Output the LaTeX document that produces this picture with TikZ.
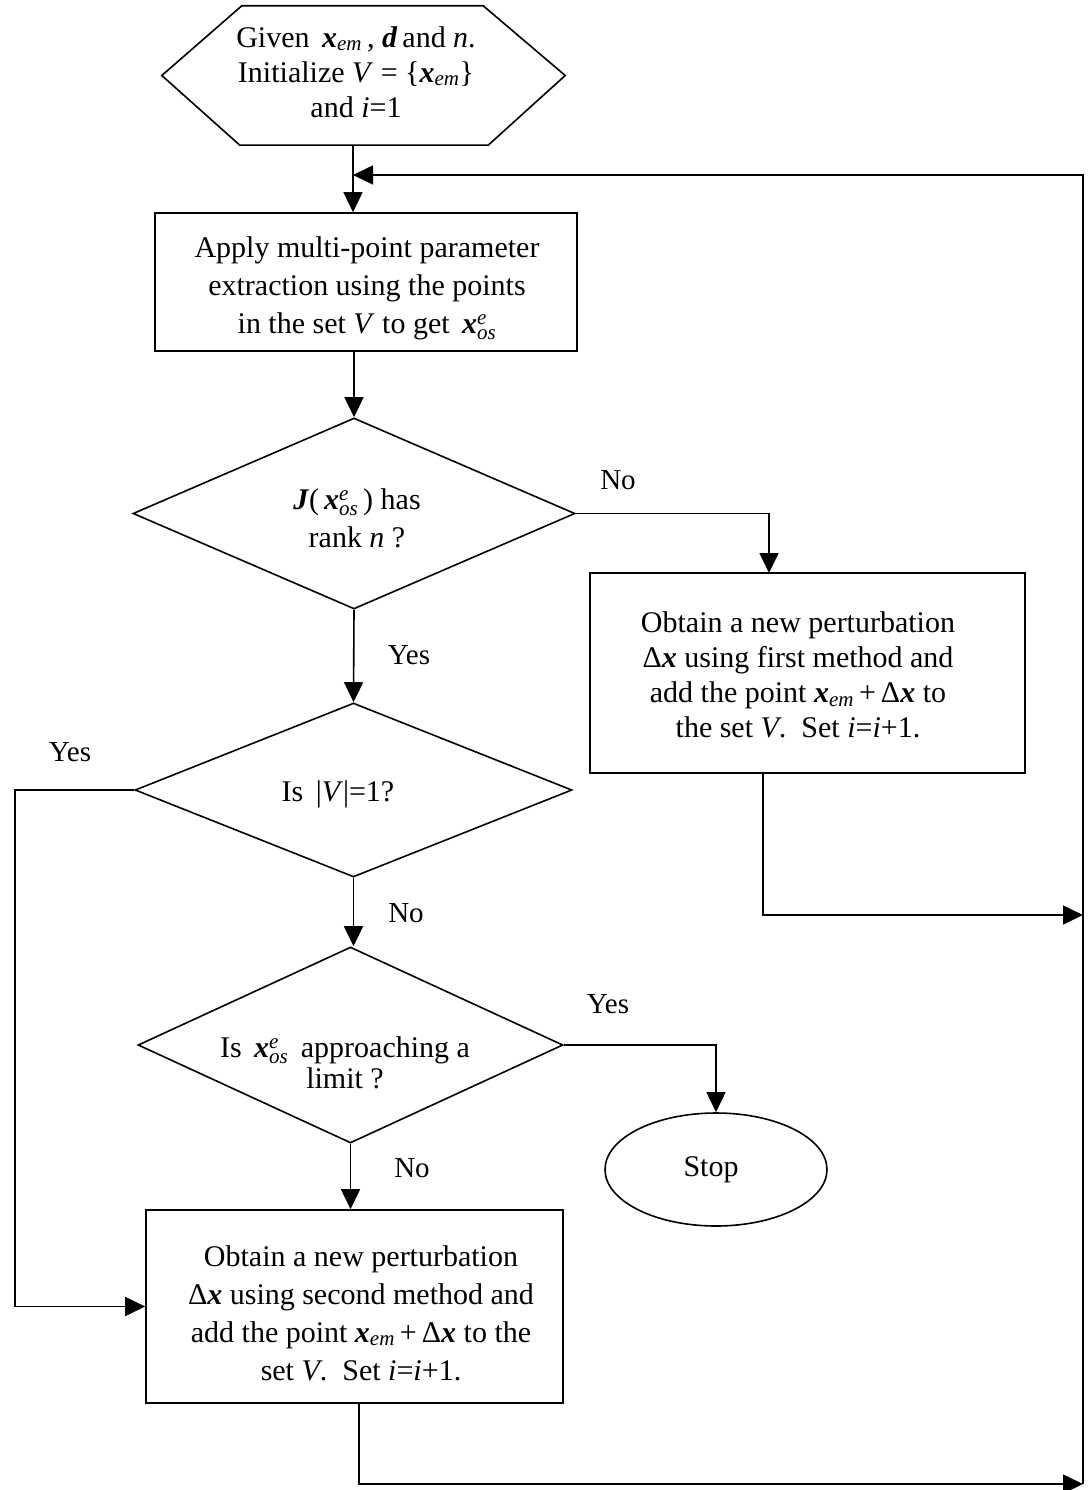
\documentclass[tikz,border=0pt]{standalone}
\usepackage{amsmath}
\usepackage{fontspec}
\setmainfont{Liberation Serif}
\usetikzlibrary{shapes.geometric,arrows.meta,calc}
\newcommand{\vx}{\textbf{\textit{x}}}
\newcommand{\xem}{\vx$_{\text{\itshape em}}$}
\newcommand{\xos}{\vx$^{\text{\itshape e}}_{\text{\itshape os}}$}
\tikzset{
  ln/.style={line width=1.6pt, line join=miter},
  arr/.style={ln, -{Triangle[length=20pt,width=19pt]}},
  boxx/.style={draw, ln, rectangle, inner sep=0pt},
  dia/.style={draw, ln, diamond, inner sep=0pt},
  txt/.style={align=center, inner sep=0pt, font=\fontsize{30}{36}\selectfont},
  lab/.style={inner sep=0pt, font=\fontsize{29}{34}\selectfont},
}
\begin{document}
\begin{tikzpicture}[x=1pt,y=-1pt]
\useasboundingbox[fill=white] (0,0) rectangle (1088,1490);
% hexagon
\node[minimum width=403, minimum height=139, inner sep=0pt] (hex) at (363.5,75.5) {};
\draw[ln] (hex.west) -- ($(hex.north west)+(80,0)$) -- ($(hex.north east)+(-82,0)$)
  -- (hex.east) -- ($(hex.south east)+(-77,0)$) -- ($(hex.south west)+(78,0)$) -- cycle;
\node[txt, font=\fontsize{30}{35}\selectfont] (hext) at (356,72) {Given \,\xem\,, \textbf{\textit{d}}\,and \textit{n}.\\
  Initialize \textit{V} = \{\xem\}\\ and \textit{i}=1};
% box 1
\node[boxx, minimum width=422, minimum height=138] (box1) at (366,282) {};
\node[txt, font=\fontsize{30}{38}\selectfont] (box1t) at (367,288) {Apply multi-point parameter\\ extraction using the points\\
  in the set \textit{V} to get \,\xos};
% diamond 1
\node[dia, minimum width=442, minimum height=191] (d1) at (354,513.5) {};
\node[txt, font=\fontsize{30}{38}\selectfont] (d1t) at (357,518) {\textbf{\textit{J}}(\,\xos\,) has\\ rank \textit{n} ?};
% box 2
\node[boxx, minimum width=435, minimum height=200] (box2) at (807.5,673) {};
\node[txt, font=\fontsize{30}{35}\selectfont] (box2t) at (798,675) {Obtain a new perturbation\\
  Δ\vx\ using first method and\\ add the point \xem\,+\,Δ\vx\ to\\
  the set \textit{V}. \ Set \textit{i}=\textit{i}+1.};
% diamond 2
\node[dia, minimum width=437, minimum height=174] (d2) at (353.5,790) {};
\node[txt] (d2t) at (338,794) {Is \,|\textit{V}|=1?};
% diamond 3
\node[dia, minimum width=425, minimum height=196] (d3) at (350.5,1045) {};
\node[txt, font=\fontsize{30}{31}\selectfont] (d3t) at (345,1063) {Is \,\xos\, approaching a\\ limit ?};
% stop
\node[draw, ln, ellipse, minimum width=222, minimum height=113, inner sep=0pt] (stop) at (716,1169.5) {};
\node[txt] (stopt) at (711,1170) {Stop};
% box 3
\node[boxx, minimum width=417, minimum height=193] (box3) at (354.5,1306.5) {};
\node[txt, font=\fontsize{30}{38}\selectfont] (box3t) at (361,1313) {Obtain a new perturbation\\
  Δ\vx\ using second method and\\ add the point \xem\,+\,Δ\vx\ to the\\
  set \textit{V}. \ Set \textit{i}=\textit{i}+1.};
% labels
\node[lab] (lno1) at (618,480) {No};
\node[lab] (lyes1) at (409,655) {Yes};
\node[lab] (lyes2) at (70,752) {Yes};
\node[lab] (lno2) at (406,913) {No};
\node[lab] (lyes3) at (608,1004) {Yes};
\node[lab] (lno3) at (412,1168) {No};
% coordinates
\coordinate (join) at (353,175);
\coordinate (rt) at (1083,175);
\coordinate (rb) at (1083,1484);
\coordinate (r2) at (1083,915);
\coordinate (lc) at (15,790);
\coordinate (b2top) at (769,573);
\coordinate (b2bot) at (763,773);
\coordinate (b3bot) at (359,1403);
% connectors
\draw[arr] (hex.south -| join) -- (box1.north -| join);
\draw[arr] (rb) -- (rt) -- (join);
\draw[arr] (box1.south -| d1.north) -- (d1.north);
\draw[arr] (d1.east) -| (b2top);
\draw[arr] (b2bot) |- (r2);
\draw[arr] (d1.south) -- (d2.north);
\draw[arr] (d2.west) -- (lc) |- (box3.west);
\draw[arr] (d2.south) -- (d3.north -| d2.south);
\draw[arr] (d3.east) -| (stop.north);
\draw[arr] (d3.south) -- (box3.north -| d3.south);
\draw[arr] (b3bot) |- (rb);
\end{tikzpicture}
\end{document}
